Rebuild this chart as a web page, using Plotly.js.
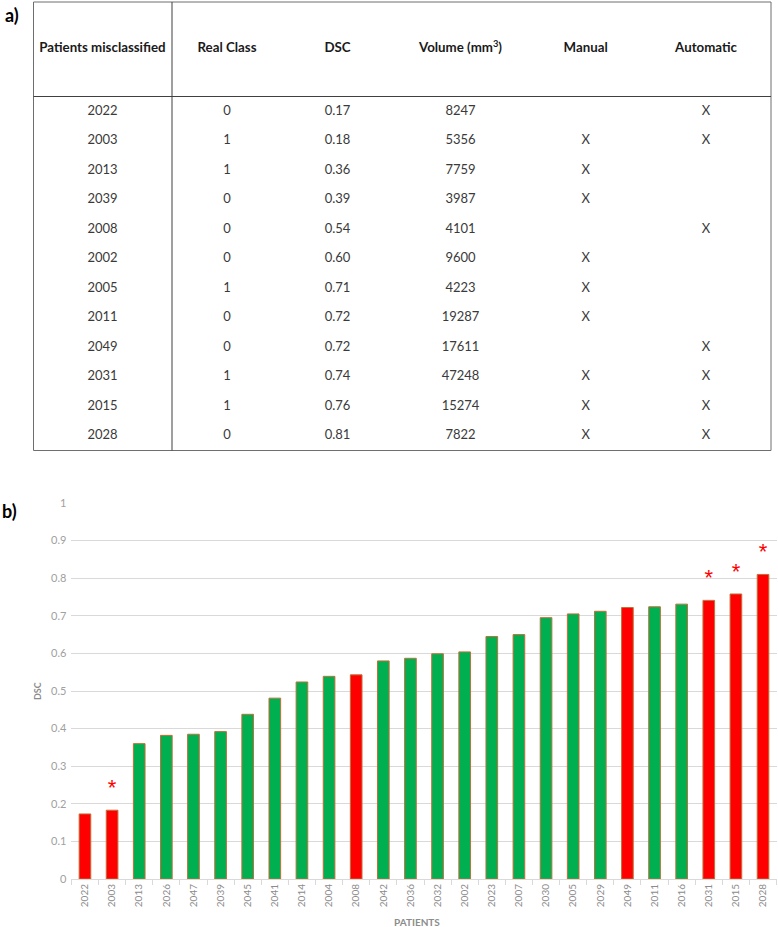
<!DOCTYPE html>
<html>
<head>
<meta charset="utf-8">
<script src="https://cdn.plot.ly/plotly-3.0.1.min.js"></script>
<style>
  html, body { margin: 0; padding: 0; background: #ffffff; }
  #chart { width: 778px; height: 927px; }
</style>
</head>
<body>
<div id="chart"></div>
<script>
// ---------- Table (a) data ----------
const tableHeaders = ['Patients misclassified', 'Real Class', 'DSC', 'Volume (mm<sup>3</sup>)', 'Manual', 'Automatic'];
const tablePatients = ['2022', '2003', '2013', '2039', '2008', '2002', '2005', '2011', '2049', '2031', '2015', '2028'];
const realClass = ['0', '1', '1', '0', '0', '0', '1', '0', '0', '1', '1', '0'];
const tableDsc = ['0.17', '0.18', '0.36', '0.39', '0.54', '0.60', '0.71', '0.72', '0.72', '0.74', '0.76', '0.81'];
const volume = ['8247', '5356', '7759', '3987', '4101', '9600', '4223', '19287', '17611', '47248', '15274', '7822'];
const manual = ['', 'X', 'X', 'X', '', 'X', 'X', 'X', '', 'X', 'X', 'X'];
const automatic = ['X', 'X', '', '', 'X', '', '', '', 'X', 'X', 'X', 'X'];

// ---------- Bar chart (b) data ----------
const patients = ['2022', '2003', '2013', '2026', '2047', '2039', '2045', '2041', '2014', '2004', '2008', '2042', '2036',
                  '2032', '2002', '2023', '2007', '2030', '2005', '2029', '2049', '2011', '2016', '2031', '2015', '2028'];
const dsc = [0.173, 0.183, 0.360, 0.382, 0.385, 0.392, 0.438, 0.481, 0.524, 0.539, 0.543, 0.580, 0.587,
             0.599, 0.604, 0.645, 0.650, 0.695, 0.705, 0.712, 0.722, 0.724, 0.731, 0.741, 0.758, 0.810];
const yTicks = [0, 0.1, 0.2, 0.3, 0.4, 0.5, 0.6, 0.7, 0.8, 0.9, 1];

// ---------- Styling / layout constants ----------
const W = 778, H = 927;
const RED = '#FF0000', GREEN = '#00B050';
const FONT = 'Lato, "Open Sans", sans-serif';

// table geometry (pixel coordinates on hidden axes x2/y2)
const colX = [102.5, 227, 337.5, 460.5, 585.7, 706];
const headerY = 49;
const firstRowY = 111.7, rowStep = 29.48;
const tbl = { left: 33.5, right: 771, top: 2, bottom: 450.5, sep: 172, headBottom: 96.5 };

const columns = [tablePatients, realClass, tableDsc, volume, manual, automatic];

const traces = [];

// Table header
traces.push({
  type: 'scatter', mode: 'text', xaxis: 'x2', yaxis: 'y2',
  x: colX, y: colX.map(() => headerY), text: tableHeaders,
  textposition: 'middle center', cliponaxis: false, hoverinfo: 'skip', showlegend: false,
  textfont: { family: FONT, size: 13.3, color: '#1a1a1a', weight: 'bold' }
});
// Table body, one text trace per column (empty cells are skipped)
columns.forEach((col, c) => {
  const rows = col.map((v, i) => i).filter(i => col[i] !== '');
  traces.push({
    type: 'scatter', mode: 'text', xaxis: 'x2', yaxis: 'y2',
    x: rows.map(() => colX[c]), y: rows.map(i => firstRowY + i * rowStep),
    text: rows.map(i => col[i]), textposition: 'middle center', cliponaxis: false, hoverinfo: 'skip', showlegend: false,
    textfont: { family: FONT, size: 13, color: '#3a3a3a' }
  });
});

// Bars: red when the automatic method misclassified the patient
const autoSet = new Set(tablePatients.filter((p, i) => automatic[i] === 'X'));
const bothSet = new Set(tablePatients.filter((p, i) => automatic[i] === 'X' && manual[i] === 'X'));

traces.push({
  type: 'bar', x: patients, y: dsc, xaxis: 'x', yaxis: 'y',
  marker: { color: patients.map(p => autoSet.has(p) ? RED : GREEN), line: { color: '#C0703A', width: 1 } },
  hoverinfo: 'x+y', showlegend: false
});

// Asterisks: misclassified by both methods
const starP = patients.filter(p => bothSet.has(p));
const starY = patients.map((p, i) => dsc[i]).filter((v, i) => bothSet.has(patients[i])).map(v => v + 0.055);
traces.push({
  type: 'scatter', mode: 'text', x: starP, y: starY, text: starP.map(() => '*'),
  textposition: 'middle center', cliponaxis: false, hoverinfo: 'skip', showlegend: false,
  textfont: { family: 'Liberation Sans, Arial, sans-serif', size: 22, color: RED }
});

const shapes = [];
const lineStyle = { color: '#6e6e6e', width: 1 };
shapes.push({ type: 'rect', xref: 'x2', yref: 'y2', x0: tbl.left, x1: tbl.right, y0: tbl.top, y1: tbl.bottom, line: lineStyle, layer: 'below' });
shapes.push({ type: 'line', xref: 'x2', yref: 'y2', x0: tbl.sep, x1: tbl.sep, y0: tbl.top, y1: tbl.bottom, line: { color: '#404040', width: 1 } });
shapes.push({ type: 'line', xref: 'x2', yref: 'y2', x0: tbl.left, x1: tbl.right, y0: tbl.headBottom, y1: tbl.headBottom, line: { color: '#404040', width: 1 } });

const plotL = 71.4, plotR = 776.6, plotTop = 503, plotBottom = 879;

const layout = {
  width: W, height: H,
  margin: { l: 0, r: 0, t: 0, b: 0 },
  paper_bgcolor: '#ffffff', plot_bgcolor: 'rgba(0,0,0,0)',
  font: { family: FONT },
  showlegend: false,
  bargap: 0.57,
  xaxis: {
    domain: [plotL / W, plotR / W], anchor: 'y', type: 'category',
    range: [-0.5, patients.length - 0.5],
    showgrid: false, zeroline: false,
    showline: true, linecolor: '#d9d9d9', linewidth: 1,
    ticks: 'outside', tickson: 'boundaries', ticklen: 5, tickcolor: '#d9d9d9',
    tickangle: -90, tickfont: { family: FONT, size: 10, color: '#8c8c8c' },
    fixedrange: true
  },
  yaxis: {
    domain: [(H - plotBottom) / H, (H - plotTop) / H], anchor: 'x',
    range: [0, 1], tickvals: yTicks, ticktext: yTicks.map(v => String(v)),
    showgrid: true, gridcolor: '#d9d9d9', gridwidth: 1, zeroline: false,
    showline: false, ticks: '', ticklabelstandoff: 4,
    tickfont: { family: FONT, size: 11, color: '#a0a0a0' },
    fixedrange: true
  },
  xaxis2: { domain: [0, 1], range: [0, W], anchor: 'y2', visible: false, fixedrange: true },
  yaxis2: { domain: [0, 1], range: [H, 0], anchor: 'x2', visible: false, fixedrange: true },
  shapes: shapes,
  annotations: [
    { text: '<b>a)</b>', xref: 'paper', yref: 'paper', x: 3 / W, y: 1 - 15 / H, xanchor: 'left', yanchor: 'middle', showarrow: false, font: { family: FONT, size: 18, color: '#000' } },
    { text: '<b>b)</b>', xref: 'paper', yref: 'paper', x: 0 / W, y: 1 - 511 / H, xanchor: 'left', yanchor: 'middle', showarrow: false, font: { family: FONT, size: 18, color: '#000' } },
    { text: '<b>DSC</b>', xref: 'paper', yref: 'paper', x: 37 / W, y: 1 - 691 / H, xanchor: 'center', yanchor: 'middle', textangle: -90, showarrow: false, font: { family: FONT, size: 9, color: '#8c8c8c' } },
    { text: '<b>PATIENTS</b>', xref: 'paper', yref: 'paper', x: 417 / W, y: 1 - 922 / H, xanchor: 'center', yanchor: 'middle', showarrow: false, font: { family: FONT, size: 10, color: '#8c8c8c' } }
  ]
};

Plotly.newPlot('chart', traces, layout, { displayModeBar: false, staticPlot: true });
</script>
</body>
</html>
